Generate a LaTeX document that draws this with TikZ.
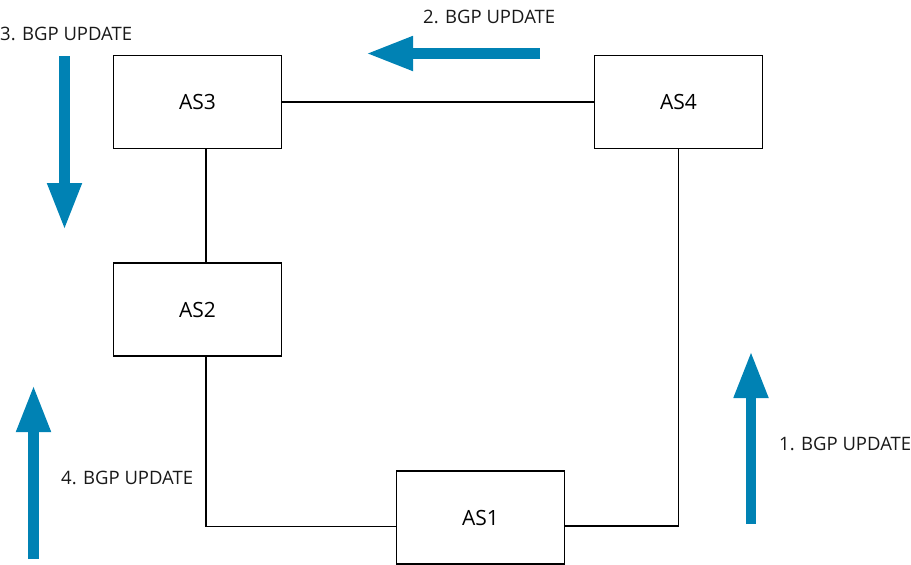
\documentclass[tikz,border=0pt]{standalone}
\usepackage{fontspec}
\setmainfont{Open Sans}
\usetikzlibrary{arrows.meta,calc}
\definecolor{bgpblue}{RGB}{0,130,180}

\begin{document}
\begin{tikzpicture}[x=1pt,y=-1pt]
    \tikzstyle{asbox}=[rectangle,draw=black,line width=1.2pt,fill=white,minimum width=168pt,minimum height=93pt,inner sep=0pt,font=\fontsize{21}{25}\selectfont]
    \tikzstyle{link}=[line width=1.8pt]
    \tikzstyle{update}=[draw=bgpblue,line width=10.5pt,-{Triangle[width=32pt,length=47pt]}]
    \tikzstyle{lbl}=[anchor=base west,inner sep=0pt,font=\fontsize{18.5}{22}\selectfont,text=black!90]
    \useasboundingbox (0,0) rectangle (911,565);

    \foreach \num/\x/\y in {3/197.5/102, 4/678.5/102, 2/197.5/309.5, 1/480.5/517.5}
        \node[asbox] (AS-\num) at (\x,\y) {AS\num};

    \draw[link] (AS-3) -- (AS-4);
    \draw[link] ($(AS-3.south)+(8.5,0)$) -- ($(AS-2.north)+(8.5,0)$);
    \draw[link] ($(AS-2.south)+(8.5,0)$) |- ($(AS-1.west)+(0,9)$);
    \draw[link] ($(AS-1.east)+(0,8.5)$) -| (AS-4.south);

    % update arrows and their labels
    \foreach \num/\xa/\ya/\xb/\yb in {1/751/524/751/351, 2/540/53.5/366/53.5, 3/64.5/56/64.5/230, 4/33.5/559/33.5/385}
        \draw[update] (\xa,\ya) coordinate (U-\num-from) -- (\xb,\yb) coordinate (U-\num-to);

    \foreach \num/\x/\y in {1/779/450, 2/423/23, 3/0/40, 4/61/484}
        \node[lbl] (L-\num) at (\x,\y) {\num. BGP UPDATE};
\end{tikzpicture}
\end{document}
